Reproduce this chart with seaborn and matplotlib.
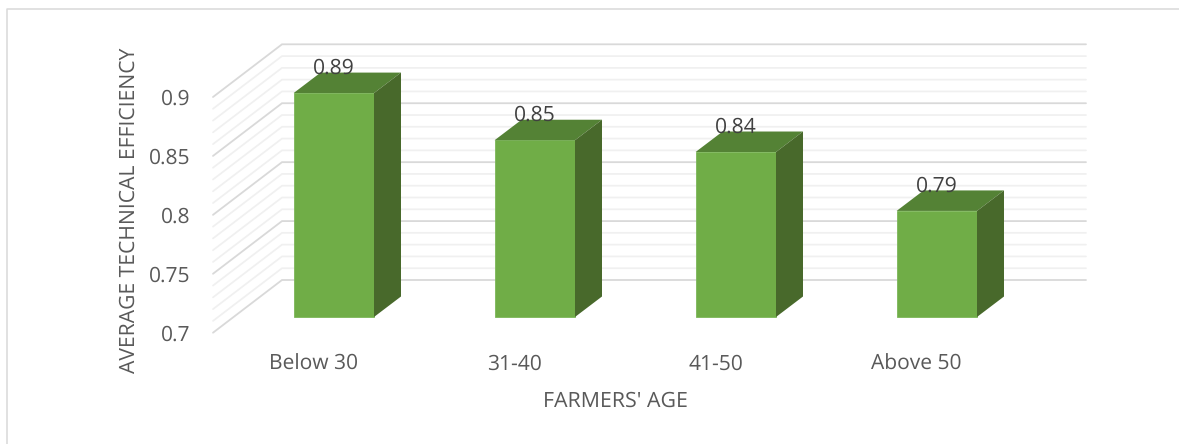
import numpy as np
import pandas as pd
import matplotlib
matplotlib.use("Agg")
import matplotlib.pyplot as plt
from matplotlib.lines import Line2D
from matplotlib.patches import Polygon
from matplotlib.transforms import Affine2D
import seaborn as sns

age_groups = ["Below 30", "31-40", "41-50", "Above 50"]
efficiency = [0.89, 0.85, 0.84, 0.79]
major_ticks = [0.7, 0.75, 0.8, 0.85, 0.9]
minor_ticks = [0.71, 0.72, 0.73, 0.74, 0.76, 0.77, 0.78, 0.79,
               0.81, 0.82, 0.83, 0.84, 0.86, 0.87, 0.88, 0.89]
tick_labels = ["0.7", "0.75", "0.8", "0.85", "0.9"]

W, H = 1179, 444
FRONT = "#70ad47"
TOP = "#548235"
SIDE = "#48692b"
TEXT = "#595959"

sns.set_theme(style="white")
plt.rcParams["font.family"] = ["Open Sans", "DejaVu Sans"]
plt.rcParams["text.hinting"] = "no_hinting"

fig = plt.figure(figsize=(W / 100, H / 100), dpi=100)
left, right, top, bottom = 213, 1017, 97, 332.7
ax = fig.add_axes([left / W, 1 - bottom / H, (right - left) / W, (bottom - top) / H])

frame = pd.DataFrame({"age": age_groups, "te": efficiency})
sns.barplot(data=frame, x="age", y="te", color=FRONT, width=0.4, saturation=1, ax=ax, zorder=3)
ax.set_xlim(-0.5, 3.5)
ax.set_ylim(0.7, 0.9)

# Pixel scale of the axes, used for the oblique depth of the 3-D look
px_x = 1 / ((right - left) / 4)
px_y = 0.2 / (bottom - top)

# Floor depth from the front edge to the back wall
floor_dx, floor_dy = 69 * px_x, 52.7 * px_y
for values, colour, lw in ((minor_ticks, "#f0f0f0", 1.25), (major_ticks, "#d9d9d9", 1.3)):
    for v in values:
        ax.plot([-0.5, -0.5 + floor_dx, 3.5 + floor_dx], [v, v + floor_dy, v + floor_dy],
                color=colour, lw=lw, clip_on=False, zorder=1, solid_joinstyle="miter")

# Bars stand part-way across the floor
bar_dx, bar_dy = 27 * px_x, 20.5 * px_y
offset = Affine2D().translate(20.3 * px_x, 15.7 * px_y) + ax.transData

for patch, v in zip(ax.patches, efficiency):
    x0 = patch.get_x()
    x1 = x0 + patch.get_width()
    patch.set_y(0.7)
    patch.set_height(v - 0.7)
    patch.set_transform(offset)
    patch.set_clip_on(False)
    patch.set_edgecolor("#7cb659")
    patch.set_linewidth(0.6)
    ax.add_patch(Polygon([(x0, v), (x1, v), (x1 + bar_dx, v + bar_dy), (x0 + bar_dx, v + bar_dy)],
                         closed=True, fc=TOP, ec="none", transform=offset, clip_on=False, zorder=3))
    ax.add_patch(Polygon([(x1, 0.7), (x1 + bar_dx, 0.7 + bar_dy), (x1 + bar_dx, v + bar_dy), (x1, v)],
                         closed=True, fc=SIDE, ec="none", transform=offset, clip_on=False, zorder=3))
    ax.text((x0 + x1) / 2, v + 24.5 * px_y, f"{v:.2f}", transform=offset, ha="center", va="center",
            fontsize=15.2, color="#404040", zorder=5)

ax.set_yticks(major_ticks, tick_labels)
ax.tick_params(axis="both", length=0, labelcolor=TEXT, labelsize=15.1)
ax.tick_params(axis="y", pad=16)
ax.tick_params(axis="x", pad=15.5)
for spine in ax.spines.values():
    spine.set_visible(False)
ax.patch.set_visible(False)
ax.set_xlabel("")
ax.set_ylabel("")

fig.text(615 / W, 1 - 401.5 / H, "FARMERS' AGE", ha="center", va="center", fontsize=15.4, color=TEXT)
fig.text(129 / W, 1 - 210 / H, "AVERAGE TECHNICAL EFFICIENCY", rotation=90,
         ha="center", va="center", fontsize=15.2, color=TEXT)

# Chart frame along the top and left edges
fig.add_artist(Line2D([6.5 / W, 6.5 / W, 1], [0, 1 - 9.5 / H, 1 - 9.5 / H],
                      transform=fig.transFigure, color="#d9d9d9", lw=1.1))

fig.savefig("out.png", dpi=100)
